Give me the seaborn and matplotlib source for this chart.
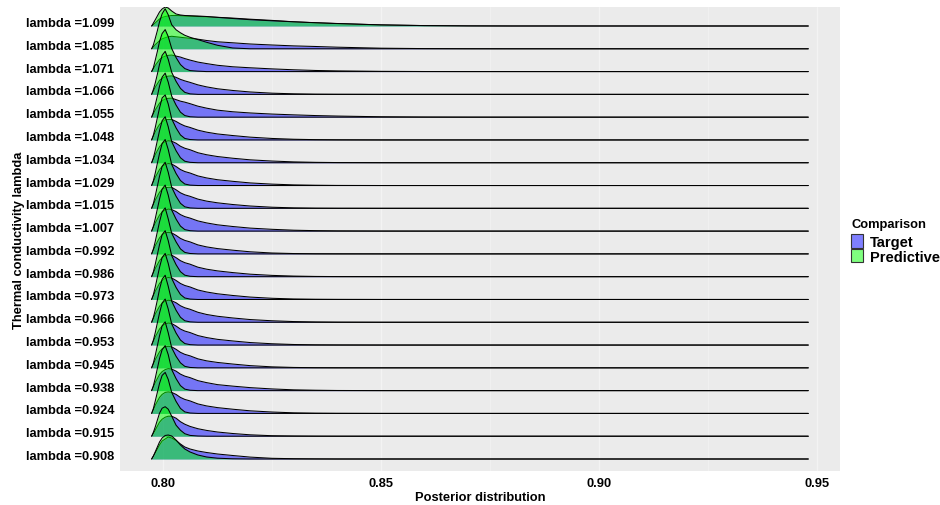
import numpy as np
import pandas as pd
import matplotlib
matplotlib.use("Agg")
import matplotlib.pyplot as plt
from matplotlib.patches import Patch
import seaborn as sns

# ---------------- data ----------------
# rows, bottom to top
lambdas = [0.908, 0.915, 0.924, 0.938, 0.945, 0.953, 0.966, 0.973, 0.986, 0.992,
           1.007, 1.015, 1.029, 1.034, 1.048, 1.055, 1.066, 1.071, 1.085, 1.099]
row_labels = ["lambda =%.3f" % v for v in lambdas]

# posterior grid (shared by every ridge)
post_grid = [0.7974, 0.7978, 0.7982, 0.7987, 0.7992, 0.7998, 0.8005, 0.8012,
             0.8020, 0.8030, 0.8040, 0.8050, 0.8062, 0.8080, 0.8100, 0.8125,
             0.8160, 0.8200, 0.8250, 0.8300, 0.8350, 0.8400, 0.8500, 0.8600,
             0.8700, 0.8800, 0.9480]

# scaled density of the Target posterior, one list per row (bottom to top)
target_density = [
    [0, 3, 6, 10, 14, 18, 20, 22, 21, 18.5, 15, 12, 10, 8, 6.5, 5, 3.5, 1.9, 0.7, 0.3, 0.1, 0, 0, 0, 0, 0, 0],
    [0, 3, 6, 10, 14, 17, 19, 20, 20, 18, 14.5, 12, 9.8, 7.5, 5.8, 4.2, 2.7, 1.4, 0.5, 0.2, 0.05, 0, 0, 0, 0, 0, 0],
    [0, 4, 8, 12, 16, 19, 21, 21.5, 21, 19, 16, 14, 12.5, 9.5, 7.5, 5.8, 4.2, 2.6, 1.4, 0.6, 0.25, 0.1, 0, 0, 0, 0, 0],
    [0, 4, 8, 12, 16, 19, 21, 22, 21.5, 19.5, 16.5, 14.5, 13, 10, 8, 6, 4.5, 3, 1.7, 0.8, 0.4, 0.15, 0.03, 0, 0, 0, 0],
    [0, 4, 8, 12, 16, 19, 21, 21.5, 21, 18.5, 15.5, 13.5, 12, 9, 7, 5.4, 3.8, 2.2, 1.0, 0.4, 0.15, 0.05, 0, 0, 0, 0, 0],
    [0, 4, 8, 12, 16, 19, 21, 22, 21.5, 19, 16, 14, 12.5, 9.5, 7.5, 5.7, 4.1, 2.5, 1.3, 0.55, 0.2, 0.08, 0, 0, 0, 0, 0],
    [0, 4, 8, 12, 16, 19, 21, 22, 21.5, 19.5, 16.5, 14.5, 13, 10, 7.8, 6, 4.3, 2.7, 1.5, 0.7, 0.3, 0.1, 0, 0, 0, 0, 0],
    [0, 4, 8, 12, 16, 19, 21, 22, 21.5, 19, 16, 14, 12.5, 9.5, 7.5, 5.7, 4, 2.4, 1.2, 0.5, 0.2, 0.08, 0, 0, 0, 0, 0],
    [0, 4, 8, 12, 16, 19, 21, 22, 21.5, 19, 16, 14, 12.5, 9.5, 7.5, 5.8, 4.1, 2.5, 1.3, 0.6, 0.25, 0.1, 0, 0, 0, 0, 0],
    [0, 4, 8, 12, 16, 19, 21, 21.5, 21, 18.5, 15.5, 13.5, 12, 9, 7, 5.3, 3.7, 2.1, 0.9, 0.35, 0.12, 0.04, 0, 0, 0, 0, 0],
    [0, 4, 8, 12, 16, 19, 21, 22, 21.5, 19.5, 16.5, 14.5, 13, 10.2, 8.2, 6.3, 4.6, 3, 1.8, 0.9, 0.45, 0.2, 0.05, 0, 0, 0, 0],
    [0, 4, 8, 12, 16, 19, 20.5, 21, 21, 18.5, 15.5, 13.5, 12, 9.2, 7.2, 5.5, 3.8, 2.3, 1.1, 0.45, 0.15, 0.05, 0, 0, 0, 0, 0],
    [0, 4, 8, 12, 16, 19, 21, 22, 21.5, 19, 16, 14, 12.5, 9.6, 7.6, 5.8, 4.2, 2.6, 1.4, 0.65, 0.3, 0.1, 0, 0, 0, 0, 0],
    [0, 4, 8, 12, 16, 19, 21, 22, 21.5, 19.5, 16.5, 14.5, 13, 10, 8, 6.2, 4.5, 2.9, 1.7, 0.85, 0.4, 0.18, 0.04, 0, 0, 0, 0],
    [0, 4, 8, 12, 15.5, 18, 20, 20.5, 20.5, 18.5, 16, 14, 12.5, 9.8, 7.8, 6, 4.4, 2.8, 1.5, 0.7, 0.3, 0.12, 0, 0, 0, 0, 0],
    [0, 3.5, 7, 10.5, 14, 16.5, 18, 18.8, 19, 17.5, 16, 15, 13.5, 11, 9, 7, 5.4, 4.2, 3.1, 2.3, 1.6, 1.1, 0.4, 0.1, 0, 0, 0],
    [0, 3.5, 7, 10.5, 14, 16, 17.5, 18.2, 18.5, 17, 15, 13.5, 12, 9.5, 7.5, 5.6, 3.9, 2.4, 1.2, 0.55, 0.2, 0.08, 0, 0, 0, 0, 0],
    [0, 3, 6, 9, 12, 14, 15.5, 16.2, 16.5, 15.5, 14.5, 13, 11.5, 9.5, 8, 6.3, 4.8, 3.8, 2.7, 1.8, 1.1, 0.7, 0.25, 0.06, 0, 0, 0],
    [0, 2, 4, 6, 8, 10, 11, 12, 12.5, 12, 11.5, 11, 10.5, 9.6, 8.3, 7, 6, 4.8, 3.8, 2.9, 2.3, 1.6, 0.6, 0.2, 0.05, 0, 0],
    [0, 1.5, 3, 5, 7, 8.5, 9.5, 10, 10.5, 10.5, 10.3, 10, 9.8, 9.5, 9.2, 8.7, 7.9, 6.8, 5.6, 4.2, 3.2, 2.4, 1.1, 0.4, 0.12, 0.03, 0],
]

# scaled density of the Predictive posterior, one list per row (bottom to top)
predictive_density = [
    [0, 3, 7, 12, 17, 21, 23.5, 24, 23, 19, 14, 10, 7, 4, 2, 0.8, 0.2] + [0] * 10,
    [0, 4, 9, 16, 23, 28, 29.5, 27, 20, 11, 6, 2.5, 0.8, 0.2] + [0] * 13,
    [0, 5, 12, 21, 30, 38, 41, 34, 21, 12, 5, 1.5, 0.4] + [0] * 14,
    [0, 5, 12, 22, 32, 41, 45, 36, 21, 12, 5, 1.5, 0.4] + [0] * 14,
    [0, 5, 12, 22, 32, 42, 46, 35, 20, 11.5, 5, 1.5, 0.4] + [0] * 14,
    [0, 5, 12, 22, 32, 42, 46, 36, 21, 12, 5, 1.5, 0.4] + [0] * 14,
    [0, 5, 12, 22, 33, 43, 47, 36, 21, 12, 5, 1.5, 0.4] + [0] * 14,
    [0, 5, 12, 22, 32, 42, 46, 36, 21, 12, 5, 1.5, 0.4] + [0] * 14,
    [0, 5, 12, 22, 32, 42, 46, 36, 21, 12, 5, 1.5, 0.4] + [0] * 14,
    [0, 5, 12, 22, 32, 42, 46, 35, 20.5, 12, 5, 1.5, 0.4] + [0] * 14,
    [0, 5, 12, 22, 32, 42, 46, 36, 21, 12, 5, 1.5, 0.4] + [0] * 14,
    [0, 5, 12, 22, 32, 42, 46, 36, 21, 12, 5, 1.5, 0.4] + [0] * 14,
    [0, 5, 12, 22, 32, 42, 46, 36, 21, 12, 5, 1.5, 0.4] + [0] * 14,
    [0, 5, 12, 22, 32, 42, 46, 36, 21, 12, 5, 1.5, 0.4] + [0] * 14,
    [0, 5, 12, 22, 32, 42, 45, 36, 21, 12, 5, 1.5, 0.4] + [0] * 14,
    [0, 5, 12, 21, 31, 40, 44, 35, 21, 12, 5, 1.6, 0.4] + [0] * 14,
    [0, 5, 11, 20, 30, 39, 43, 35, 22, 13, 6, 2, 0.5] + [0] * 14,
    [0, 4, 11, 20, 30, 38, 42, 35, 23, 14, 7, 3, 1, 0.4] + [0] * 13,
    [0, 4, 10, 18, 27, 35, 40, 34, 24, 19, 16, 13.5, 11.5, 9.2, 6.5, 3.5, 0.8] + [0] * 10,
    [0, 3, 6, 10, 14, 17, 19, 18, 15, 12, 11, 10.5, 10.3, 10, 9.5, 8.6, 7.5, 6.3, 5.2, 4.2, 3.3, 2.5, 1.1, 0.4, 0.1, 0, 0],
]

series_names = ["Target", "Predictive"]
series_colors = ["#0000FF", "#00FF00"]
x_ticks = [0.80, 0.85, 0.90, 0.95]
x_tick_labels = ["0.80", "0.85", "0.90", "0.95"]

# ---------------- style ----------------
sns.set_theme(style="darkgrid")
plt.rcParams["font.family"] = ["Liberation Sans", "DejaVu Sans"]

W, H = 940, 506
fig = plt.figure(figsize=(W / 100, H / 100), dpi=100)
fig.patch.set_facecolor("white")
ax = fig.add_axes([120 / W, 1 - 472 / H, 720 / W, 464 / H])
ax.set_facecolor("#EBEBEB")

row_px = (460 - 27) / 19.0      # pixels per ridge row
height_scale = 1.0 / row_px     # density unit -> row units

x = np.array(post_grid)
n = len(lambdas)
z = 2
# draw from top row down so lower ridges overlay upper ones
for i in range(n - 1, -1, -1):
    for name, col, dens in zip(series_names, series_colors,
                               [target_density[i], predictive_density[i]]):
        y = i + np.array(dens, dtype=float) * height_scale
        ax.fill_between(x, i, y, color=col, alpha=0.5, lw=0, zorder=z)
        df = pd.DataFrame({"x": x, "y": y})
        sns.lineplot(data=df, x="x", y="y", ax=ax, color="black", lw=0.75,
                     zorder=z + 0.5, sort=False, estimator=None)
        z += 1

ax.set_xlim(0.80 - 43 / 4360, 0.95 + 23 / 4360)
ax.set_ylim(-12 / row_px, n - 1 + 19 / row_px)

ax.set_xticks(x_ticks)
ax.set_xticklabels(x_tick_labels, fontsize=9.3, fontweight="bold", color="black")
ax.set_xticks([0.825, 0.875, 0.925], minor=True)
ax.set_yticks(range(n))
ax.set_yticklabels(row_labels, fontsize=9.3, fontweight="bold", color="black",
                   va="baseline")
ax.tick_params(axis="both", which="both", length=0)
ax.tick_params(axis="x", pad=4)
ax.tick_params(axis="y", pad=4)

ax.grid(False)
ax.grid(True, axis="x", which="major", color="#F3F3F3", lw=0.9, zorder=0)
ax.grid(True, axis="x", which="minor", color="#F1F1F1", lw=0.7, zorder=0)
ax.set_axisbelow(True)
for s in ax.spines.values():
    s.set_visible(False)

ax.set_xlabel("Posterior distribution", fontsize=9.3, fontweight="bold",
              color="black", labelpad=1.5)
ax.set_ylabel("Thermal conductivity lambda", fontsize=9.3, fontweight="bold",
              color="black", labelpad=1)

fig.text(852 / W, 1 - 225 / H, "Comparison", fontsize=9.3, fontweight="bold",
         ha="left", va="center", color="black")
handles = [Patch(facecolor=(0, 0, 1, 0.5), edgecolor="#333333", lw=0.8),
           Patch(facecolor=(0, 1, 0, 0.5), edgecolor="#333333", lw=0.8)]
leg = fig.legend(handles, series_names,
                 loc="upper left", bbox_to_anchor=(851 / W, 1 - 235.5 / H),
                 frameon=False, handlelength=0.85, handleheight=1.0,
                 handletextpad=0.45, labelspacing=0.0, borderpad=0,
                 borderaxespad=0, labelcolor="black",
                 prop={"family": ["Liberation Sans"], "weight": "bold", "size": 10.5})

fig.savefig("out.png", dpi=100, facecolor="white")
